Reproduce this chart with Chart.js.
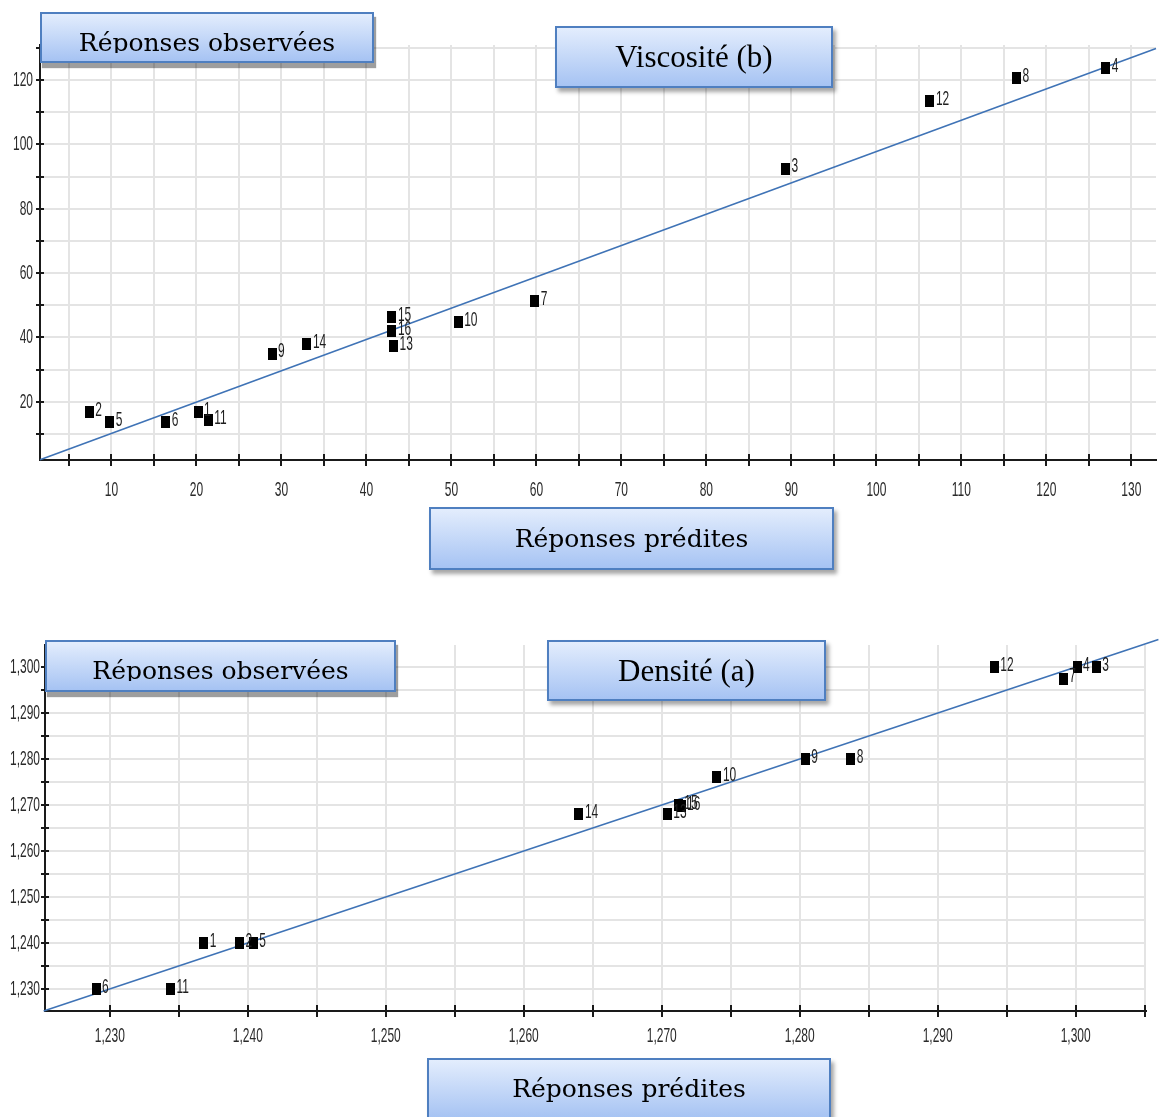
<!DOCTYPE html>
<html lang="fr">
<head>
<meta charset="utf-8">
<title>Réponses observées / prédites</title>
<script src="https://cdn.jsdelivr.net/npm/chart.js@4.4.1/dist/chart.umd.min.js"></script>
<style>
    body { margin: 0; background: #fff; width: 1163px; height: 1117px; position: relative; overflow: hidden; }
    canvas { position: absolute; left: 0; }
    #viscChart { top: 0; }
    #densChart { top: 600px; }
    .tag {
        position: absolute;
        box-sizing: border-box;
        border: 2px solid #4f7fc0;
        background: linear-gradient(#e3edfd, #a6c3f3);
        box-shadow: 3px 4px 4px rgba(0, 0, 0, 0.35);
        text-align: center;
        color: #000;
        white-space: nowrap;
    }
    .tag.obs { box-shadow: 2px 5px 1px rgba(0, 0, 0, 0.38); }
    .tag .txt { overflow: hidden; }
    .sans { font-family: "DejaVu Serif", serif; font-size: 25px; }
    .times { font-family: "Liberation Serif", "Times New Roman", serif; font-size: 31px; }
</style>
</head>
<body>
<canvas id="viscChart" width="1163" height="520"></canvas>
<canvas id="densChart" width="1163" height="480"></canvas>

<div class="tag obs sans" style="left:40px;top:12px;width:334px;height:51px;">
    <div class="txt" style="height:39px;line-height:57px;">Réponses observées</div>
</div>
<div class="tag times" style="left:555px;top:26px;width:278px;height:62px;line-height:58px;">Viscosité (b)</div>
<div class="tag sans" style="left:429px;top:507px;width:405px;height:63px;line-height:59px;">Réponses prédites</div>

<div class="tag obs sans" style="left:45px;top:640px;width:351px;height:52px;">
    <div class="txt" style="height:39px;line-height:57px;">Réponses observées</div>
</div>
<div class="tag times" style="left:547px;top:640px;width:279px;height:61px;line-height:57px;">Densité (a)</div>
<div class="tag sans" style="left:427px;top:1058px;width:404px;height:62px;line-height:58px;">Réponses prédites</div>

<script>
// === Data ===
const runLabels = ["1", "2", "3", "4", "5", "6", "7", "8", "9", "10", "11", "12", "13", "14", "15", "16"];

// Viscosité (b)
const viscPredicted = [20.2, 7.4, 89.3, 127.0, 9.8, 16.4, 59.8, 116.5, 28.9, 50.8, 21.4, 106.3, 43.2, 33.0, 43.0, 43.0];
const viscObserved  = [16.9, 16.9, 92.5, 123.6, 13.8, 13.8, 51.2, 120.6, 35.0, 44.7, 14.4, 113.4, 37.3, 38.0, 46.3, 42.0];
const viscFitX = [1.6, 132.9];
const viscFitY = [2.0, 129.8];

// Densité (a)
const densPredicted = [1.2368, 1.2394, 1.3015, 1.3001, 1.2404, 1.2290, 1.2991, 1.2837, 1.2804, 1.2740, 1.2344, 1.2941, 1.2704, 1.2640, 1.2712, 1.2714];
const densObserved  = [1.240, 1.240, 1.300, 1.300, 1.240, 1.230, 1.2975, 1.280, 1.280, 1.276, 1.230, 1.300, 1.268, 1.268, 1.2700, 1.2697];
const densFitX = [1.2252, 1.306];
const densFitY = [1.2252, 1.306];

const labelFont = "21px 'Liberation Sans', Arial, sans-serif";
const squeeze = 0.57;

// small black rectangle used as marker
const marker = document.createElement("canvas");
marker.width = 9;
marker.height = 12;
const mctx = marker.getContext("2d");
mctx.fillStyle = "#000";
mctx.fillRect(0, 0, 9, 12);

// condensed text, like a narrow font
function drawNarrow(ctx, text, x, y, align) {
    ctx.save();
    ctx.translate(x, y);
    ctx.scale(squeeze, 1);
    ctx.textAlign = align;
    ctx.textBaseline = "middle";
    ctx.fillText(text, 0, 0);
    ctx.restore();
}

// ticks crossing the axis line + condensed tick labels
function axisDecor(xLabel, yLabel, xLabelGap, yLabelGap) {
    return {
        id: "axisDecor",
        afterDraw(chart) {
            const ctx = chart.ctx;
            const xs = chart.scales.x;
            const ys = chart.scales.y;
            ctx.save();
            ctx.strokeStyle = "#1a1a1a";
            ctx.lineWidth = 2;
            ctx.beginPath();
            xs.ticks.forEach(t => {
                const px = Math.round(xs.getPixelForValue(t.value));
                ctx.moveTo(px, xs.top - 6);
                ctx.lineTo(px, xs.top + 6);
            });
            ys.ticks.forEach(t => {
                const py = Math.round(ys.getPixelForValue(t.value));
                ctx.moveTo(ys.right - 4, py);
                ctx.lineTo(ys.right + 4, py);
            });
            ctx.stroke();

            ctx.font = labelFont;
            ctx.fillStyle = "#2a2a2a";
            xs.ticks.forEach(t => {
                const s = xLabel(t.value);
                if (s) drawNarrow(ctx, s, xs.getPixelForValue(t.value), xs.top + xLabelGap, "center");
            });
            ys.ticks.forEach(t => {
                const s = yLabel(t.value);
                if (s) drawNarrow(ctx, s, ys.right - yLabelGap, ys.getPixelForValue(t.value), "right");
            });
            ctx.restore();
        }
    };
}

// run numbers written next to each point
const runNumbers = {
    id: "runNumbers",
    afterDatasetsDraw(chart) {
        const ctx = chart.ctx;
        const meta = chart.getDatasetMeta(0);
        ctx.save();
        ctx.font = labelFont;
        ctx.fillStyle = "#1e1e1e";
        meta.data.forEach((pt, i) => {
            drawNarrow(ctx, runLabels[i], pt.x + 6, pt.y - 2, "left");
        });
        ctx.restore();
    }
};

function pairs(xs, ys) {
    return xs.map((x, i) => ({ x: x, y: ys[i] }));
}

function makeChart(canvasId, opts) {
    return new Chart(document.getElementById(canvasId), {
        type: "scatter",
        data: {
            datasets: [{
                data: pairs(opts.px, opts.py),
                pointStyle: marker,
                pointRadius: 6,
                showLine: false
            }, {
                type: "line",
                data: pairs(opts.fx, opts.fy),
                borderColor: "#3f73b6",
                borderWidth: 1.6,
                pointRadius: 0,
                fill: false,
                clip: false
            }]
        },
        options: {
            responsive: false,
            animation: false,
            devicePixelRatio: 1,
            layout: { padding: { top: 45, right: opts.padRight, left: 0, bottom: 0 } },
            plugins: { legend: { display: false }, tooltip: { enabled: false } },
            scales: {
                x: {
                    type: "linear",
                    min: opts.xMin,
                    max: opts.xMax,
                    afterFit: s => { s.height = opts.xHeight; },
                    grid: { color: "#e4e4e4", lineWidth: 2, drawTicks: false },
                    border: { display: true, color: "#1a1a1a", width: 2 },
                    ticks: { stepSize: opts.xStep, includeBounds: false, autoSkip: false, display: false }
                },
                y: {
                    type: "linear",
                    min: opts.yMin,
                    max: opts.yMax,
                    afterFit: s => { s.width = opts.yWidth; },
                    grid: { color: "#e4e4e4", lineWidth: 2, drawTicks: false },
                    border: { display: true, color: "#1a1a1a", width: 2 },
                    ticks: { stepSize: opts.yStep, includeBounds: false, autoSkip: false, display: false }
                }
            }
        },
        plugins: [axisDecor(opts.xLabel, opts.yLabel, opts.xGap, opts.yGap), runNumbers]
    });
}

const densityLabel = v => Math.round(v * 1000) % 10 === 0 ? v.toFixed(3).replace(".", ",") : "";

makeChart("viscChart", {
    px: viscPredicted, py: viscObserved, fx: viscFitX, fy: viscFitY,
    xMin: 1.6, xMax: 132.9, yMin: 1.9, yMax: 130.9,
    xStep: 5, yStep: 10,
    xLabel: v => Math.round(v) % 10 === 0 ? String(Math.round(v)) : "",
    yLabel: v => Math.round(v) % 20 === 0 ? String(Math.round(v)) : "",
    xHeight: 60, yWidth: 40, xGap: 30, yGap: 7, padRight: 0
});

makeChart("densChart", {
    px: densPredicted, py: densObserved, fx: densFitX, fy: densFitY,
    xMin: 1.2253, xMax: 1.3051, yMin: 1.2252, yMax: 1.3048,
    xStep: 0.005, yStep: 0.005,
    xLabel: densityLabel,
    yLabel: densityLabel,
    xHeight: 69, yWidth: 45, xGap: 25, yGap: 5, padRight: 17
});
</script>
</body>
</html>
